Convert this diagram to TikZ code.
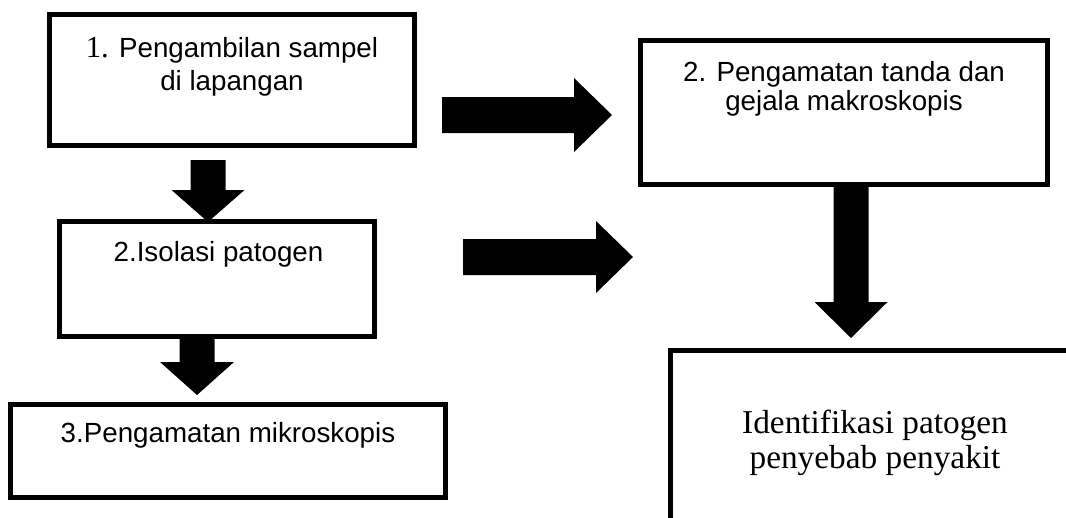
\documentclass[tikz,border=0pt]{standalone}
\usepackage{fontspec}
\setmainfont{Liberation Serif}
\newfontfamily\arialf{Liberation Sans}
\usetikzlibrary{calc}
\tikzset{
  box/.style={draw=black, line width=3.75pt, fill=white, inner sep=0pt, outer sep=0pt},
  sanslbl/.style={font=\arialf\fontsize{20.8}{24}\selectfont, anchor=base, inner sep=0pt},
  seriflbl/.style={font=\rmfamily\fontsize{25}{30}\selectfont, anchor=base, inner sep=0pt},
  blk/.style={fill=black, draw=none},
}
% #1 start, #2 tip, #3 half shaft width, #4 half head width, #5 head length
\newcommand\blockarrow[5]{%
  \coordinate (#2-h) at ($(#2)!#5!(#1)$);
  \fill[blk] ($(#1)!#3!90:(#2)$) -- ($(#2-h)!#3!90:(#2)$) -- ($(#2-h)!#4!90:(#2)$) -- (#2)
    -- ($(#2-h)!#4!-90:(#2)$) -- ($(#2-h)!#3!-90:(#2)$) -- ($(#1)!#3!-90:(#2)$) -- cycle;}
\begin{document}
\begin{tikzpicture}[x={(0.75pt,0)}, y={(0,-0.75pt)}]
\useasboundingbox (0,0) rectangle (1066,517);
\fill[white] (0,0) rectangle (1066,517);
\clip (0,0) rectangle (1066,517);

% boxes
\node[box, minimum width=273.75pt, minimum height=98.25pt] (b1) at (232,80) {};
\node[box, minimum width=236.25pt, minimum height=86.25pt] (b2) at (217,279) {};
\node[box, minimum width=326.25pt, minimum height=69.75pt] (b3) at (228,451) {};
\node[box, minimum width=305.25pt, minimum height=108pt] (b4) at (844,112.5) {};
\node[box, minimum width=306.75pt, minimum height=187.125pt] (b5) at (875,475.25) {};

% texts
\node[sanslbl] (t1a) at (232,58) {{\rmfamily\fontsize{23}{28}\selectfont 1.} Pengambilan sampel};
\node[sanslbl] (t1b) at (232,90) {di lapangan};
\node[sanslbl] (t2) at (218.5,261) {2.Isolasi patogen};
\node[sanslbl] (t3) at (228,442) {3.Pengamatan mikroskopis};
\node[sanslbl] (t4a) at (844,81) {2. Pengamatan tanda dan};
\node[sanslbl] (t4b) at (844,110) {gejala makroskopis};
\node[seriflbl] (t5a) at (875,433) {Identifikasi patogen};
\node[seriflbl] (t5b) at (875,468) {penyebab penyakit};

% arrow end points
\coordinate (a1s) at (442,115);  \coordinate (a1t) at (612,115);
\coordinate (a2s) at (463,257);  \coordinate (a2t) at (633,257);
\coordinate (d1s) at (208,160);  \coordinate (d1t) at (208,222);
\coordinate (d2s) at (b2.south -| 197,0); \coordinate (d2t) at (197,395);
\coordinate (d3s) at (b4.south -| 851,0); \coordinate (d3t) at (851,338);

\blockarrow{a1s}{a1t}{13.5pt}{27.75pt}{28.5pt}
\blockarrow{a2s}{a2t}{13.5pt}{27pt}{27.75pt}
\blockarrow{d1s}{d1t}{13.125pt}{27.375pt}{24pt}
\blockarrow{d2s}{d2t}{13.125pt}{27.75pt}{24.75pt}
\blockarrow{d3s}{d3t}{13.125pt}{27.375pt}{27pt}
\end{tikzpicture}
\end{document}
